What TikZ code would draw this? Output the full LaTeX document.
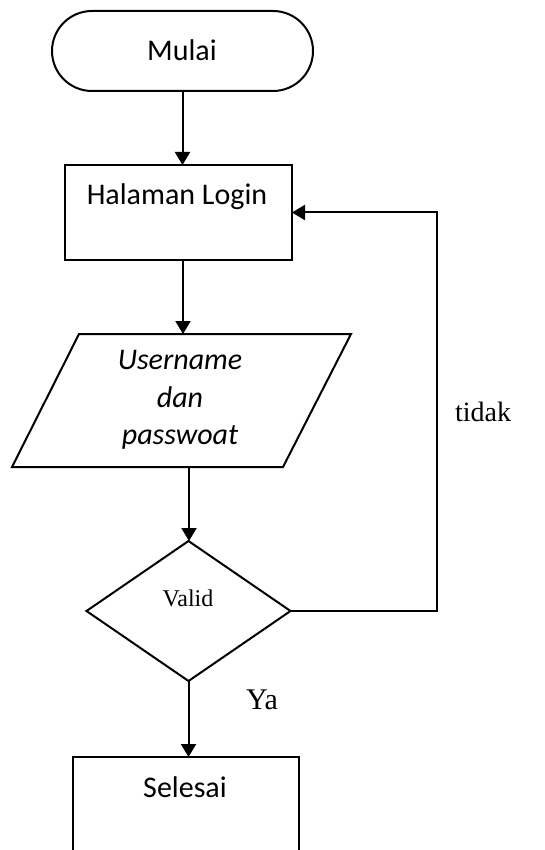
\documentclass[tikz,border=0pt]{standalone}
\usepackage{fontspec}
\setmainfont{Carlito}
\newfontfamily\serifl{Liberation Serif}
\usetikzlibrary{arrows.meta,shapes.geometric}
\begin{document}
\begin{tikzpicture}[x=1pt,y=-1pt,
  line width=2pt,
  box/.style={draw,rectangle,inner sep=0pt,outer sep=0pt},
  txt/.style={font=\fontsize{30}{37}\selectfont,inner sep=0pt,align=center},
  lbl/.style={font=\serifl\fontsize{28}{32}\selectfont,inner sep=0pt},
  arr/.style={-{Triangle[width=15pt,length=13pt]}}]
\useasboundingbox (0,0) rectangle (544,850);
% Mulai
\node[draw,rectangle,rounded corners=40pt,minimum width=261pt,minimum height=80pt,inner sep=0pt,outer sep=0pt] (mulai) at (182.5,51) {};
\node[txt] (mulaiT) at (182,50) {Mulai};
% Halaman Login
\node[box,minimum width=227pt,minimum height=95pt] (login) at (178.5,212.5) {};
\node[txt] (loginT) at (177,197) {Halaman Login};
% Input parallelogram
\coordinate (inTop) at (183,334);
\coordinate (inBot) at (189,467);
\draw (79,334) -- (351,334) -- (283,467) -- (12,467) -- cycle;
\node[txt,font=\itshape\fontsize{30}{37.5}\selectfont] (inT) at (180,400) {Username\\dan\\passwoat};
% Decision
\node[draw,diamond,minimum width=204pt,minimum height=140pt,inner sep=0pt,outer sep=0pt] (dia) at (188.5,611) {};
\node[lbl,font=\serifl\fontsize{24}{27}\selectfont] (diaT) at (188,598) {Valid};
% Selesai
\node[box,minimum width=226pt,minimum height=95pt] (sel) at (186,804.5) {};
\node[txt] (selT) at (185,787) {Selesai};
% labels
\node[lbl] (tidak) at (483,412) {tidak};
\node[lbl,font=\serifl\fontsize{30}{34}\selectfont] (ya) at (262,700) {Ya};
% connectors
\draw[arr] (mulai.south) -- (mulai.south |- login.north);
\draw[arr] (login.south -| inTop) -- (inTop);
\draw[arr] (inBot) -- (inBot |- dia.north);
\coordinate (corner) at (437,611);
\draw[arr] (dia.east) -- (dia.east -| corner) |- (login.east);
\draw[arr] (dia.south) -- (dia.south |- sel.north);
\end{tikzpicture}
\end{document}
